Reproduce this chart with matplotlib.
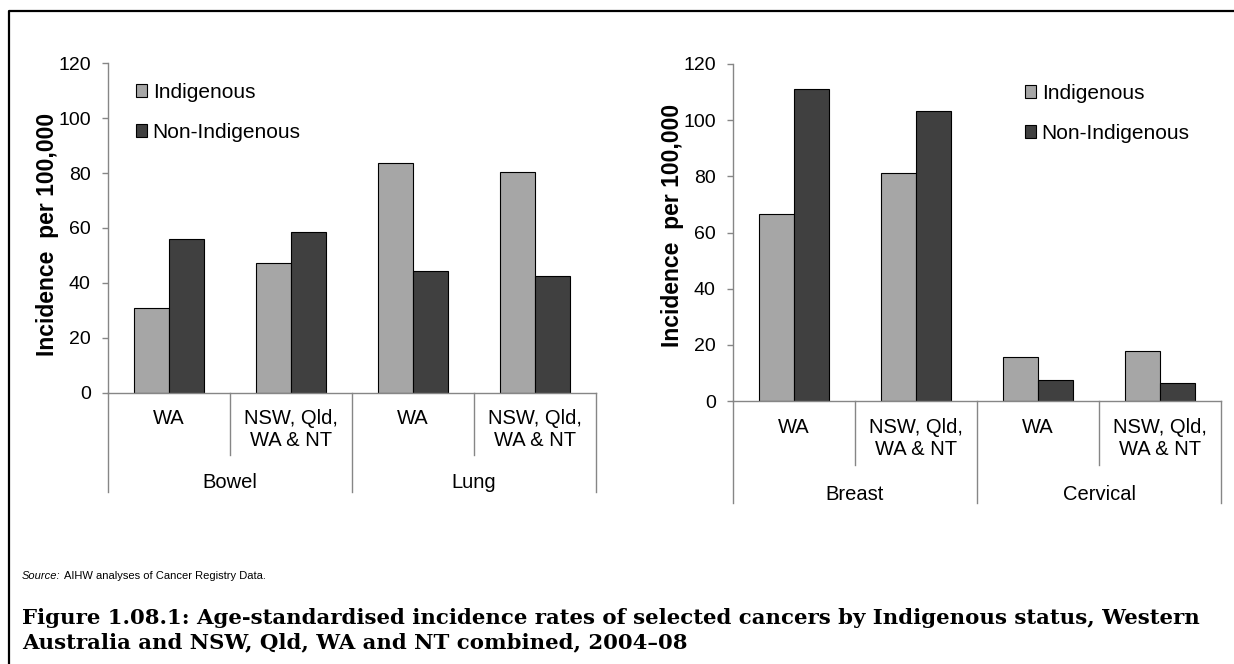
import matplotlib.pyplot as plt
import matplotlib.transforms as mtransforms
from matplotlib.patches import Patch
from matplotlib.lines import Line2D

plt.rcParams['font.family'] = ['Liberation Sans', 'DejaVu Sans']

# ---- data ----
regions = ['WA', 'NSW, Qld,\nWA & NT', 'WA', 'NSW, Qld,\nWA & NT']
left_groups = ['Bowel', 'Lung']
right_groups = ['Breast', 'Cervical']
left_indig = [30.8, 47.1, 83.6, 80.3]
left_nonindig = [56.0, 58.4, 44.4, 42.4]
right_indig = [66.6, 81.2, 15.6, 17.7]
right_nonindig = [111.0, 103.2, 7.5, 6.5]
series_names = ['Indigenous', 'Non-Indigenous']
yticks = [0, 20, 40, 60, 80, 100, 120]

C_IND = '#a6a6a6'
C_NON = '#404040'
AX_GREY = '#868686'

W, H = 1234, 664
fig = plt.figure(figsize=(W / 100, H / 100), dpi=100)


def px_axes(x0, x1, y_top, y_bot):
    return fig.add_axes([x0 / W, 1 - y_bot / H, (x1 - x0) / W, (y_bot - y_top) / H])


def draw_panel(ax, indig, nonindig, groups, inner_len, outer_len, lab_off, grp_off, leg_xy, ylab_y):
    n = len(indig)
    xs = list(range(n))
    bw = 1 / 3.5
    ax.bar([x - bw / 2 for x in xs], indig, width=bw, color=C_IND, edgecolor='black', linewidth=0.8)
    ax.bar([x + bw / 2 for x in xs], nonindig, width=bw, color=C_NON, edgecolor='black', linewidth=0.8)
    ax.set_xlim(-0.5, n - 0.5)
    ax.set_ylim(0, 120)
    ax.set_yticks(yticks)
    ax.tick_params(axis='y', direction='out', length=4.5, width=1, color=AX_GREY,
                   labelsize=14, pad=8)
    ax.set_xticks([])
    for s in ['top', 'right']:
        ax.spines[s].set_visible(False)
    for s in ['left', 'bottom']:
        ax.spines[s].set_color(AX_GREY)
        ax.spines[s].set_linewidth(1)
    ax.set_ylabel('Incidence  per 100,000', fontsize=16.5, fontweight='bold')
    ax.yaxis.set_label_coords(-0.1, ylab_y)

    # two level category axis
    base = mtransforms.blended_transform_factory(ax.transData, ax.transAxes)

    def off(dy):
        return mtransforms.offset_copy(base, fig=fig, x=0, y=-dy, units='dots')

    for i in range(n + 1):
        length = outer_len if i % 2 == 0 else inner_len
        x_disp = base.transform((i - 0.5, 0))[0]
        y0 = off(0).transform((i - 0.5, 0))[1]
        y1 = off(length).transform((i - 0.5, 0))[1]
        fig.add_artist(Line2D([x_disp / W, x_disp / W], [y0 / H, y1 / H], color=AX_GREY, lw=1,
                              transform=fig.transFigure))
    for i, lab in enumerate(regions):
        ax.text(i, 0, lab, transform=off(lab_off), ha='center', va='top', fontsize=14.5,
                linespacing=1.2)
    for g, name in enumerate(groups):
        ax.text(2 * g + 0.5, 0, name, transform=off(grp_off), ha='center', va='center',
                fontsize=14.5)

    handles = [Patch(facecolor=C_IND, edgecolor='black', linewidth=0.8),
               Patch(facecolor=C_NON, edgecolor='black', linewidth=0.8)]
    ax.legend(handles, series_names, loc='upper left', frameon=False, fontsize=15,
              bbox_to_anchor=(leg_xy[0] / W, 1 - leg_xy[1] / H), bbox_transform=fig.transFigure,
              handlelength=0.55, handleheight=0.55, handletextpad=0.25, labelspacing=1.0,
              borderpad=0, borderaxespad=0)


ax1 = px_axes(108, 596, 63.3, 392.5)
draw_panel(ax1, left_indig, left_nonindig, left_groups, 62, 99, 16, 90, (136, 83), 0.48)

ax2 = px_axes(733, 1221, 64, 401)
draw_panel(ax2, right_indig, right_nonindig, right_groups, 64, 102, 17, 94, (1025, 84), 0.52)

# outer frame (top and left edges visible)
fig.add_artist(Line2D([9 / W, 9 / W, 1], [0, 1 - 11 / H, 1 - 11 / H], color='black', lw=1.6,
                      transform=fig.transFigure))

src = fig.text(22 / W, 1 - 576 / H, 'Source:', style='italic', fontsize=8, va='center')
fig.canvas.draw()
src_right = src.get_window_extent().x1
fig.text((src_right + 3) / W, 1 - 576 / H, 'AIHW analyses of Cancer Registry Data.',
         fontsize=8, va='center')
fig.text(22 / W, 1 - 630 / H,
         'Figure 1.08.1: Age-standardised incidence rates of selected cancers by Indigenous status, Western\n'
         'Australia and NSW, Qld, WA and NT combined, 2004\u201308',
         family=['DejaVu Serif'], fontweight='bold', fontsize=15.3,
         va='center', linespacing=1.25)

fig.savefig('out.png', dpi=100)
